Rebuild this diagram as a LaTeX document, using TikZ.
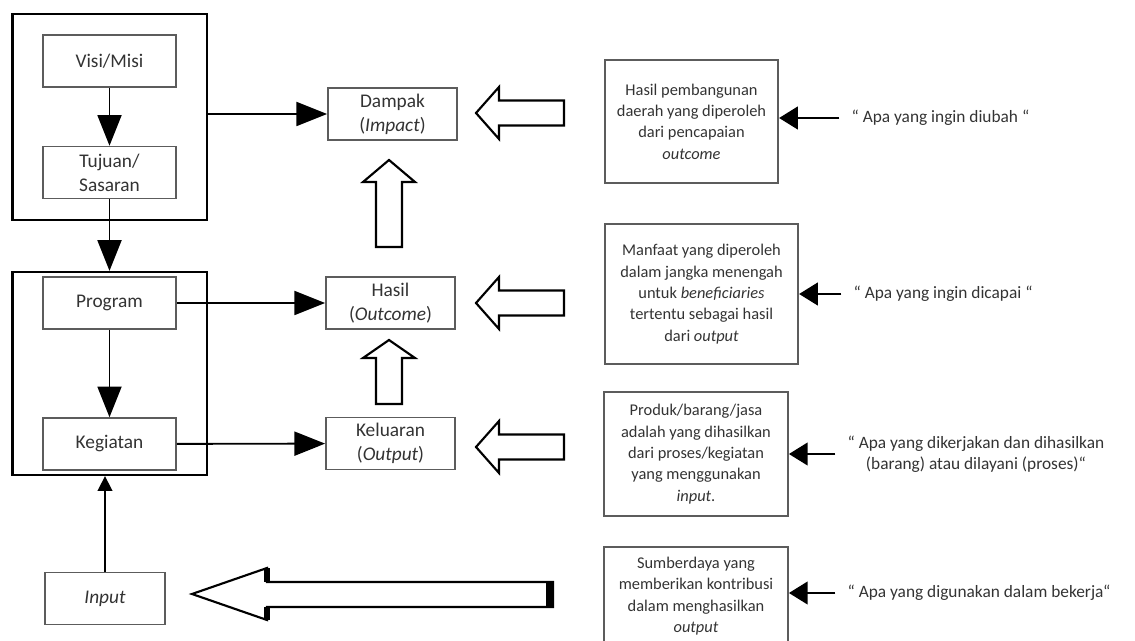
\documentclass[tikz,border=0pt]{standalone}
\usepackage{fontspec}
\setmainfont{Carlito}
\usepackage{tikz}
\usetikzlibrary{arrows.meta,positioning}
\definecolor{ink}{HTML}{000000}
\definecolor{edge}{HTML}{5C5C5C}
\definecolor{txt}{HTML}{333333}
\tikzset{
  inbox/.style={draw=edge, line width=1.1pt, fill=white, text=txt, align=center, minimum width=100pt, minimum height=39pt, inner sep=1pt, font=\fontsize{14.5}{18}\selectfont},
  frame/.style={draw=ink, line width=2pt, minimum width=146pt},
  descbox/.style={draw=edge, line width=1.4pt, text=txt, align=center, inner sep=1pt, font=\fontsize{12.3}{16}\selectfont},
  quote/.style={text=txt, align=center, inner sep=1pt, anchor=west, font=\fontsize{13}{16}\selectfont},
  flow/.style={draw=ink, line width=1.4pt, -{Triangle[length=23pt,width=18pt]}},
  qarrow/.style={draw=ink, line width=1.4pt, -{Triangle[length=14pt,width=17pt]}, shorten <=8pt},
  thinflow/.style={draw=ink, line width=1.2pt, -{Triangle[length=11pt,width=11pt]}},
  hollow/.style={draw=ink, line width=1.6pt, line join=miter, fill=white},
}

\begin{document}
\begin{tikzpicture}[x=0.75pt, y=-0.75pt]
  \clip (0,0) rectangle (1135,641);
  % planning frames
  \node[frame, minimum height=154.5pt] (F1) at (109.5,117) {};
  \node[frame, minimum height=152pt] (F2) at (109.5,373.5) {};
  % left column
  \node[inbox] (visi) at (109.5,61) {Visi/Misi};
  \node[inbox] (tujuan) at (109.5,172.5) {Tujuan/\\Sasaran};
  \node[inbox] (prog) at (109.5,303) {Program};
  \node[inbox] (keg) at (109.5,444) {Kegiatan};
  \node[inbox, minimum width=90pt] (inp) at (105,598.5) {\textit{Input}};
  % middle column
  \node[inbox, minimum width=97pt] (dampak) at (392.5,114) {Dampak\\(\textit{Impact})};
  \node[inbox, minimum width=97pt] (hasil) at (390.5,303) {Hasil\\(\textit{Outcome})};
  \node[inbox, minimum width=97pt] (kel) at (390.5,443.5) {Keluaran\\(\textit{Output})};
  % descriptions
  \node[descbox, minimum width=130pt, minimum height=92pt] (d1) at (691.5,121.5)
    {Hasil pembangunan\\daerah yang diperoleh\\dari pencapaian\\\textit{outcome}};
  \node[descbox, minimum width=145pt, minimum height=105pt] (d2) at (701.5,294)
    {Manfaat yang diperoleh\\dalam jangka menengah\\untuk \textit{beneficiaries}\\tertentu sebagai hasil\\dari \textit{output}};
  \node[descbox, minimum width=138pt, minimum height=93pt] (d3) at (696,454)
    {Produk/barang/jasa\\adalah yang dihasilkan\\dari proses/kegiatan\\yang menggunakan\\\textit{input}.};
  \node[descbox, minimum width=138pt, minimum height=73.5pt] (d4) at (696,596)
    {Sumberdaya yang\\memberikan kontribusi\\dalam menghasilkan\\\textit{output}};
  % questions
  \node[quote] (q1) at (850,118) {“ Apa yang ingin diubah “};
  \node[quote] (q2) at (852,294) {“ Apa yang ingin dicapai “};
  \node[quote] (q3) at (846,454) {“ Apa yang dikerjakan dan dihasilkan\\(barang) atau dilayani (proses)“};
  \node[quote] (q4) at (846,593) {“ Apa yang digunakan dalam bekerja“};
  % flow arrows
  \draw[flow] (visi) -- (tujuan);
  \draw[flow] (tujuan) -- (F2.north);
  \draw[flow] (prog) -- (keg);
  \draw[thinflow] (inp.north) -- (inp.north |- F2.south);
  \draw[flow] (F1.east |- dampak.west) -- (dampak.west);
  \draw[flow] (prog) -- (hasil);
  \draw[flow] (keg) -- (kel);
  \draw[qarrow] (q1.west) -- (q1.west -| d1.east);
  \draw[qarrow] (q2.west) -- (q2.west -| d2.east);
  \draw[qarrow] (q3.west) -- (q3.west -| d3.east);
  \draw[qarrow] (q4.west) -- (q4.west -| d4.east);
  % hollow arrows
  \foreach \y in {113,303,447}
    \draw[hollow] (476,\y) -- (499,\y-26) -- (499,\y-12.5) -- (564,\y-12.5)
      -- (564,\y+12.5) -- (499,\y+12.5) -- (499,\y+26) -- cycle;
  \draw[hollow] (389,160) -- (415,182) -- (402,182) -- (402,247) -- (376,247)
    -- (376,182) -- (363,182) -- cycle;
  \draw[hollow] (389,340) -- (415,358) -- (402,358) -- (402,404) -- (376,404)
    -- (376,358) -- (363,358) -- cycle;
  \draw[hollow] (192,594) -- (267,568) -- (267,582) -- (553,582) -- (553,607)
    -- (267,607) -- (267,620) -- cycle;
  \draw[line width=4pt] (267,568) -- (267,582) (267,607) -- (267,620);
  \draw[line width=6pt] (550,582) -- (550,607);
\end{tikzpicture}
\end{document}
